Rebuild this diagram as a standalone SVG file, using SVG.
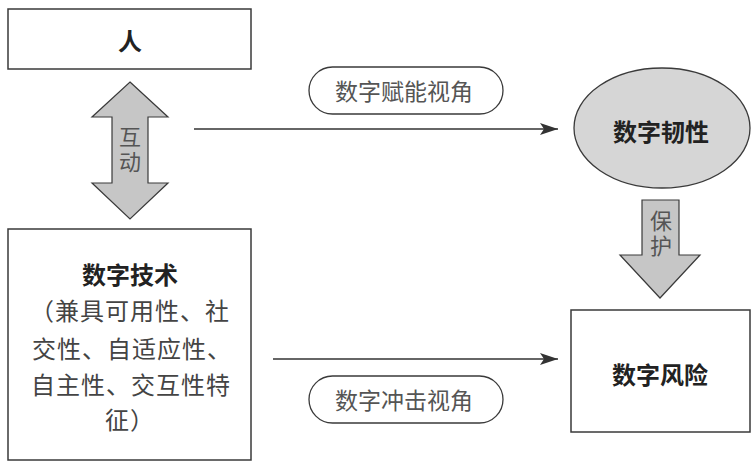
<svg xmlns="http://www.w3.org/2000/svg" width="753" height="462" viewBox="0 0 753 462">
<style>
.box{fill:#fff;stroke:#3a3a3a;stroke-width:1.5}
.big{fill:#c6c6c6;stroke:#3a3a3a;stroke-width:1.2}
.pill{fill:#fff;stroke:#3a3a3a;stroke-width:1.3}
.t{font-family:"Noto Sans CJK SC","Noto Sans",sans-serif;text-anchor:middle;dominant-baseline:central}
.b{font-size:24px;font-weight:bold;fill:#222}
.n{font-size:24px;fill:#444;letter-spacing:1px}
.g{font-size:23px;fill:#555}
.v{font-size:22px;fill:#555;writing-mode:vertical-rl;letter-spacing:3px}
.line{stroke:#333;stroke-width:1.5;fill:none}
</style>
<defs>
<marker id="ah" markerWidth="20" markerHeight="12" refX="18" refY="6" orient="auto" markerUnits="userSpaceOnUse">
<path d="M0,0 L18,6 L0,12 L4,6 Z" fill="#333"/>
</marker>
</defs>
<g id="connectors">
<line class="line" x1="194" y1="129" x2="558" y2="129" marker-end="url(#ah)"/>
<line class="line" x1="273" y1="359" x2="558" y2="359" marker-end="url(#ah)"/>
</g>
<g id="node-ren">
<rect class="box" x="8" y="9" width="243" height="60"/>
<text class="t b" x="130" y="39">人</text>
</g>
<g id="arrow-hudong">
<path class="big" d="M130,82 L168,117 L148,117 L148,183 L168,183 L130,219 L92,183 L112,183 L112,117 L92,117 Z"/>
<text class="t v" x="130" y="151">互动</text>
</g>
<g id="node-tech">
<rect class="box" x="8" y="229" width="243" height="231"/>
<text class="t b" x="130" y="273">数字技术</text>
<text class="t n" x="130" y="309">（兼具可用性、社</text>
<text class="t n" x="132" y="347">交性、自适应性、</text>
<text class="t n" x="131" y="383">自主性、交互性特</text>
<text class="t n" x="130" y="418">征）</text>
</g>
<g id="label-empower">
<rect class="pill" x="309" y="67" width="194" height="47" rx="23.5"/>
<text class="t g" x="404" y="90">数字赋能视角</text>
</g>
<g id="label-impact">
<rect class="pill" x="309" y="376" width="194" height="47" rx="23.5"/>
<text class="t g" x="404" y="399">数字冲击视角</text>
</g>
<g id="node-resilience">
<ellipse cx="662" cy="128" rx="88" ry="60" fill="#d6d6d6" stroke="#3a3a3a" stroke-width="1.3"/>
<text class="t b" x="661" y="130">数字韧性</text>
</g>
<g id="arrow-baohu">
<path class="big" d="M642,200 L679,200 L679,255 L700,255 L660,298 L620,255 L642,255 Z"/>
<text class="t v" x="661" y="235">保护</text>
</g>
<g id="node-risk">
<rect class="box" x="571" y="310" width="179" height="122"/>
<text class="t b" x="660" y="373">数字风险</text>
</g>
</svg>
